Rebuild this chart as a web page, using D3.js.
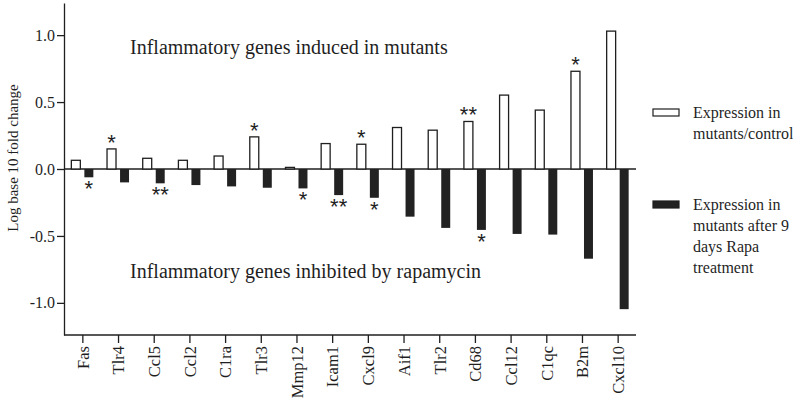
<!DOCTYPE html>
<html>
<head>
<meta charset="utf-8">
<script src="https://cdn.jsdelivr.net/npm/d3@7"></script>
<style>
  body { margin: 0; background: #fff; }
</style>
</head>
<body>
<div id="chart"></div>
<script>
// DATA
var genes = ["Fas", "Tlr4", "Ccl5", "Ccl2", "C1ra", "Tlr3", "Mmp12", "Icam1",
             "Cxcl9", "Aif1", "Tlr2", "Cd68", "Ccl12", "C1qc", "B2m", "Cxcl10"];
var mutantValues = [0.065, 0.15, 0.08, 0.065, 0.097, 0.24, 0.012, 0.19,
                    0.185, 0.31, 0.29, 0.355, 0.552, 0.44, 0.73, 1.03];
var rapaValues = [-0.062, -0.10, -0.107, -0.12, -0.13, -0.14, -0.145, -0.195,
                  -0.215, -0.356, -0.44, -0.455, -0.485, -0.49, -0.67, -1.047];
var mutantStars = ["", "*", "", "", "", "*", "", "", "*", "", "", "**", "", "", "*", ""];
var rapaStars = ["*", "", "**", "", "", "", "*", "**", "*", "", "", "*", "", "", "", ""];
var yTicks = [-1, -0.5, 0, 0.5, 1];
var seriesNames = ["mutants", "rapa"];
var legendLabels = [["Expression in", "mutants/control"],
                    ["Expression in", "mutants after 9", "days Rapa", "treatment"]];

var ink = "#1f1f1f";
var serif = "'Liberation Serif', 'Times New Roman', Times, serif";
var sans = "'Liberation Sans', Arial, sans-serif";

// SVG
var svg = d3.select("#chart")
  .append("svg")
    .attr("width", 800)
    .attr("height", 400)
    .style("font-family", serif);

// SCALES
var x = d3.scaleBand()
  .domain(genes)
  .range([65, 636]);

var xInner = d3.scaleBand()
  .domain(seriesNames)
  .range([-11.5, 10.5])
  .paddingInner(0.31);

var y = d3.scaleLinear()
  .domain([-1.24, 1.24])
  .range([335, 3]);

// Y AXIS
var yAxis = svg.append("g")
  .attr("transform", "translate(64,0)")
  .call(d3.axisLeft(y)
    .tickValues(yTicks)
    .tickFormat(function(d) { return d.toFixed(1); })
    .tickSize(7)
    .tickSizeOuter(0)
    .tickPadding(2));
yAxis.attr("font-family", null);
yAxis.selectAll("path, line").attr("stroke", ink).attr("stroke-width", 1.3);
yAxis.selectAll("text")
  .style("font-family", serif)
  .style("font-size", "16px")
  .attr("fill", ink);

svg.append("text")
  .attr("transform", "translate(18,158) rotate(-90)")
  .attr("text-anchor", "middle")
  .style("font-family", serif)
  .style("font-size", "15px")
  .attr("fill", ink)
  .text("Log base 10 fold change");

// X AXIS
var xAxis = svg.append("g")
  .attr("transform", "translate(0,335)")
  .call(d3.axisBottom(x).tickSize(8).tickSizeOuter(0));
xAxis.attr("font-family", null);
xAxis.select("path").attr("d", "M64,0H636");
xAxis.selectAll("path, line").attr("stroke", ink).attr("stroke-width", 1.3);
xAxis.selectAll("text")
  .attr("transform", "rotate(-90)")
  .attr("x", -11)
  .attr("y", 0)
  .attr("dy", "0.35em")
  .attr("text-anchor", "end")
  .style("font-family", serif)
  .style("font-size", "16.5px")
  .attr("fill", ink);

// ZERO LINE
svg.append("line")
  .attr("x1", 64).attr("x2", 636)
  .attr("y1", y(0)).attr("y2", y(0))
  .attr("stroke", ink)
  .attr("stroke-width", 1.3);

// BARS
var groups = svg.selectAll(".gene")
  .data(genes)
  .enter()
  .append("g")
    .attr("class", "gene")
    .attr("transform", function(d) { return "translate(" + (x(d) + x.bandwidth() / 2) + ",0)"; });

groups.append("rect")
  .attr("x", xInner("mutants"))
  .attr("width", xInner.bandwidth())
  .attr("y", function(d, i) { return y(mutantValues[i]); })
  .attr("height", function(d, i) { return y(0) - y(mutantValues[i]); })
  .attr("fill", "#fff")
  .attr("stroke", ink)
  .attr("stroke-width", 1.3);

groups.append("rect")
  .attr("x", xInner("rapa"))
  .attr("width", xInner.bandwidth())
  .attr("y", y(0))
  .attr("height", function(d, i) { return y(rapaValues[i]) - y(0); })
  .attr("fill", "#222");

// SIGNIFICANCE STARS
groups.append("text")
  .attr("x", xInner("mutants") + xInner.bandwidth() / 2)
  .attr("y", function(d, i) { return y(mutantValues[i]) + 1; })
  .attr("text-anchor", "middle")
  .style("font-family", sans)
  .style("font-size", "22px")
  .attr("fill", ink)
  .text(function(d, i) { return mutantStars[i]; });

groups.append("text")
  .attr("x", xInner("rapa") + xInner.bandwidth() / 2)
  .attr("y", function(d, i) { return y(rapaValues[i]) + 19; })
  .attr("text-anchor", "middle")
  .style("font-family", sans)
  .style("font-size", "22px")
  .attr("fill", ink)
  .text(function(d, i) { return rapaStars[i]; });

// ANNOTATIONS
svg.append("text")
  .attr("x", 130).attr("y", 54)
  .style("font-family", serif)
  .style("font-size", "20px")
  .attr("fill", ink)
  .text("Inflammatory genes induced in mutants");

svg.append("text")
  .attr("x", 130).attr("y", 278)
  .style("font-family", serif)
  .style("font-size", "20px")
  .attr("fill", ink)
  .text("Inflammatory genes inhibited by rapamycin");

// LEGEND
var legendTop = [118, 210];
var legend = svg.append("g").attr("class", "legend");

legend.selectAll("rect")
  .data(seriesNames)
  .enter()
  .append("rect")
    .attr("x", 653)
    .attr("y", function(d, i) { return legendTop[i] - 9; })
    .attr("width", 26)
    .attr("height", 7)
    .attr("fill", function(d) { return d === "mutants" ? "#fff" : "#222"; })
    .attr("stroke", ink)
    .attr("stroke-width", 1.2);

legend.selectAll("text")
  .data(legendLabels)
  .enter()
  .append("text")
    .attr("x", 693)
    .attr("y", function(d, i) { return legendTop[i]; })
    .style("font-family", serif)
    .style("font-size", "16px")
    .attr("fill", ink)
    .selectAll("tspan")
    .data(function(d) { return d; })
    .enter()
    .append("tspan")
      .attr("x", 693)
      .attr("dy", function(d, i) { return i === 0 ? 0 : 21; })
      .text(function(d) { return d; });
</script>
</body>
</html>
